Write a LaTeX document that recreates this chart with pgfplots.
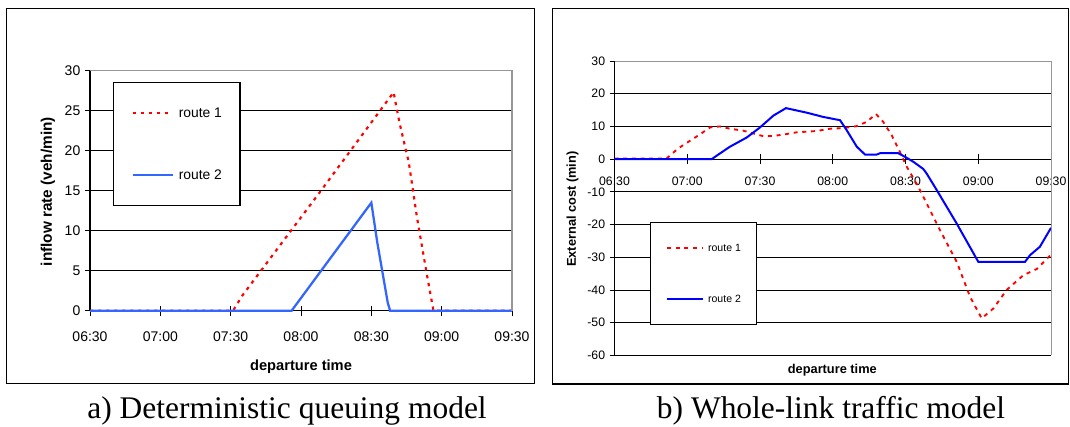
\documentclass[border=0pt]{standalone}
\usepackage{fontspec}
\setmainfont{Liberation Sans}
\newfontfamily\capfont{Liberation Serif}
\usepackage{pgfplots}
\pgfplotsset{compat=1.18}
\definecolor{rtred}{RGB}{255,0,0}
\definecolor{rtblueA}{RGB}{51,102,255}
\definecolor{rtblueB}{RGB}{0,0,255}
\definecolor{bordergray}{RGB}{150,150,150}

\begin{document}
\begin{tikzpicture}
\useasboundingbox (0pt,0pt) rectangle (802.5pt,320.25pt);
\draw[line width=1.3pt] (4.875pt,32.625pt) rectangle (400.875pt,313.875pt);
\draw[line width=1.3pt] (414.375pt,32.25pt) rectangle (801.375pt,313.875pt);

% a) deterministic queuing model
\begin{axis}[
  at={(67.5pt,87.225pt)}, anchor=south west,
  scale only axis, width=316.5pt, height=180pt,
  xmin=0, xmax=180, ymin=0, ymax=30, clip=false,
  xtick={0,30,...,180},
  xticklabels={06:30,07:00,07:30,08:00,08:30,09:00,09:30},
  ytick={0,5,...,30},
  yticklabels={0,5,10,15,20,25,30},
  axis x line*=bottom, axis y line*=left,
  hide obscured x ticks=false, hide obscured y ticks=false,
  tick align=center, major tick length=7.5pt,
  tick style={black, line width=0.6pt},
  axis line style={black, line width=0.8pt},
  ymajorgrids, grid style={black, line width=0.6pt},
  ticklabel style={font=\fontsize{10.5}{12}\selectfont},
  xticklabel style={yshift=-8.5pt},
  xlabel={departure time}, ylabel={inflow rate (veh/min)},
  xlabel style={font=\bfseries\fontsize{11}{13}\selectfont, at={(axis description cs:0.5,-0.232)}, anchor=center},
  ylabel style={font=\bfseries\fontsize{11.5}{13}\selectfont, at={(axis description cs:-0.0995,0.496)}, anchor=center},
  legend style={at={(axis description cs:0.0545,0.953)}, anchor=north west,
    draw=black, line width=0.8pt, inner xsep=13.5pt, inner ysep=19pt,
    row sep=39pt, column sep=3.75pt, font=\fontsize{10.4}{12}\selectfont,
    nodes={inner sep=0pt, text height=7.5pt, text depth=0pt}},
  legend cell align=left,
  legend image code/.code={\draw[#1] (0pt,0pt) -- (30pt,0pt);},
]
\addplot[rtred, line width=1.6pt, dash pattern=on 2.5pt off 3.5pt] coordinates {
  (0,0) (61,0) (65,1.9) (98,14.8) (129.5,27.3) (132,23.5) (136,18.5)
  (139.5,11.6) (144,4) (146.5,0) (180,0)};
\addlegendentry{route 1}
\addplot[rtblueA, line width=1.7pt] coordinates {
  (0,0) (86,0) (120,13.5) (122.5,8.6) (127,1) (128,0) (180,0)};
\addlegendentry{route 2}
\draw[bordergray, line width=0.8pt] (rel axis cs:0,1) -- (rel axis cs:1,1) -- (rel axis cs:1,0);
\end{axis}

% b) whole-link traffic model
\begin{axis}[
  at={(460.875pt,53.775pt)}, anchor=south west,
  scale only axis, width=327.4pt, height=220.7pt,
  xmin=0, xmax=180, ymin=-60, ymax=30, clip=false,
  xtick={0,30,...,180},
  xticklabels={06:30,07:00,07:30,08:00,08:30,09:00,09:30},
  ytick={-60,-50,...,30},
  yticklabels={-60,-50,-40,-30,-20,-10,0,10,20,30},
  axis x line*=middle, axis y line*=left,
  hide obscured x ticks=false, hide obscured y ticks=false,
  tick align=center, major tick length=7pt,
  tick style={black, line width=0.6pt},
  axis line style={black, line width=0.8pt},
  ymajorgrids, grid style={black, line width=0.6pt},
  ticklabel style={font=\fontsize{9.2}{11}\selectfont},
  xticklabel style={yshift=-6pt},
  xlabel={departure time}, ylabel={External cost (min)},
  xlabel style={font=\bfseries\fontsize{9.6}{11}\selectfont, at={(axis description cs:0.499,-0.05)}, anchor=center},
  ylabel style={font=\bfseries\fontsize{9.6}{11}\selectfont, at={(axis description cs:-0.0962,0.497)}, anchor=center},
  legend style={at={(axis description cs:0.0813,0.454)}, anchor=north west,
    draw=black, line width=0.8pt, inner xsep=11.7pt, inner ysep=16.3pt,
    row sep=32.9pt, column sep=3pt, font=\fontsize{7.9}{9.5}\selectfont,
    nodes={inner sep=0pt, text height=5.6pt, text depth=0pt}},
  legend cell align=left,
  legend image code/.code={\draw[#1] (0pt,0pt) -- (27pt,0pt);},
]
\addplot[rtred, line width=1.4pt, dash pattern=on 3pt off 3.5pt] coordinates {
  (0,0.2) (21.5,0.2) (26.3,3.3) (31.1,5.6) (35.3,7.6) (39.4,9.7) (43.5,10.0)
  (47.6,9.3) (53.1,8.7) (61.4,7.0) (65.5,7.1) (69.6,7.5) (75.1,8.2) (83.4,8.6)
  (88.9,9.3) (94.4,9.5) (99.9,10.1) (104,11.4) (107.8,13.8) (110.8,11.4)
  (114.3,7.3) (117.7,2.2) (120.5,-2.3) (125.3,-8.5) (134.2,-21.7) (141.1,-31.4)
  (146.6,-42.1) (151.4,-48.7) (156.2,-45.7) (161.7,-40) (168.6,-35.5)
  (174.1,-33.6) (180,-29.2)};
\addlegendentry{route 1}
\addplot[rtblueB, line width=1.5pt] coordinates {
  (0,0) (40.1,0) (42.8,1.4) (47.6,3.8) (54.5,6.6) (60,9.7) (65.5,13.3)
  (70.7,15.6) (79.3,14.2) (86.1,12.9) (93,11.9) (95.7,8.9) (99.9,3.8)
  (103.3,1.4) (108.1,1.4) (109.5,1.8) (117,1.8) (119.8,0.7) (123.2,-0.8)
  (127.3,-3.0) (128.7,-4.4) (132.9,-9.5) (141.1,-19.7) (150,-31.4)
  (169.3,-31.4) (171.3,-29.4) (175.4,-26.8) (180,-21)};
\addlegendentry{route 2}
\draw[bordergray, line width=0.8pt] (rel axis cs:0,1) -- (rel axis cs:1,1) -- (rel axis cs:1,0);
\end{axis}

\node[anchor=base, font=\capfont\fontsize{23.6}{28}\selectfont] at (215.25pt,6.375pt) {a) Deterministic queuing model};
\node[anchor=base, font=\capfont\fontsize{23.6}{28}\selectfont] at (623.25pt,6.375pt) {b) Whole-link traffic model};
\end{tikzpicture}
\end{document}
